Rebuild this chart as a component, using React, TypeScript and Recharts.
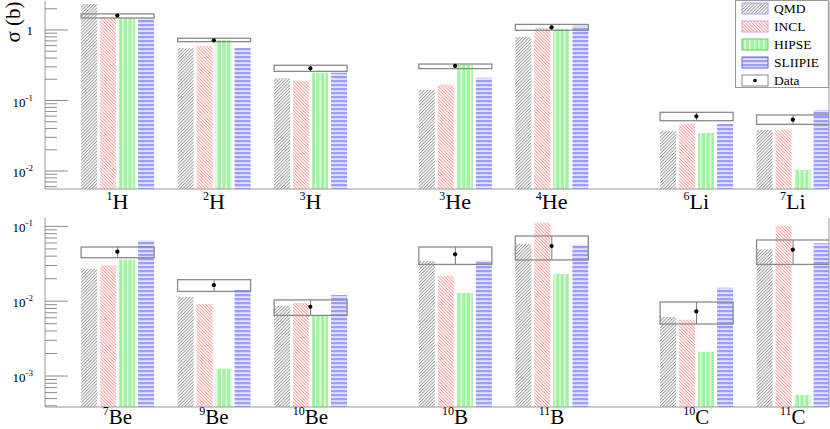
import React from "react";
import { ComposedChart, Bar, Scatter, XAxis, YAxis, ReferenceLine, Legend } from "recharts";

const MODELS = ["QMD", "INCL", "HIPSE", "SLIIPIE"];
const KEYS = ["qmd", "incl", "hipse", "sliipie"];

// upper panel: hydrogen, helium, lithium
const TOP_MASS = [1, 2, 3, 3, 4, 6, 7];
const TOP_ELEM = ["H", "H", "H", "He", "He", "Li", "Li"];
const TOP_QMD = [2.34, 0.55, 0.206, 0.141, 0.795, 0.0369, 0.0382];
const TOP_INCL = [1.51, 0.593, 0.191, 0.166, 1.08, 0.0469, 0.0382];
const TOP_HIPSE = [1.47, 0.72, 0.248, 0.319, 1.04, 0.0346, 0.0104];
const TOP_SLIIPIE = [1.47, 0.556, 0.248, 0.211, 1.15, 0.0464, 0.0733];
const TOP_DATA = [1.6, 0.714, 0.286, 0.309, 1.09, 0.0596, 0.0534];
const TOP_LO = [1.48, 0.683, 0.259, 0.283, 0.99, 0.0517, 0.0459];
const TOP_HI = [1.69, 0.763, 0.316, 0.329, 1.2, 0.068, 0.0623];

// lower panel: beryllium, boron, carbon
const BOT_MASS = [7, 9, 10, 10, 11, 10, 11];
const BOT_ELEM = ["Be", "Be", "Be", "B", "B", "C", "C"];
const BOT_QMD = [0.0272, 0.0114, 0.0086, 0.0344, 0.0587, 0.00615, 0.0493];
const BOT_INCL = [0.0299, 0.00917, 0.00955, 0.0219, 0.112, 0.00566, 0.102];
const BOT_HIPSE = [0.0362, 0.00125, 0.0064, 0.0129, 0.0231, 0.00211, 0.00056];
const BOT_SLIIPIE = [0.065, 0.0141, 0.0121, 0.0351, 0.0569, 0.0151, 0.0593];
const BOT_DATA = [0.0459, 0.0164, 0.00843, 0.0423, 0.0547, 0.00731, 0.0489];
const BOT_LO = [0.0381, 0.0135, 0.00646, 0.031, 0.0356, 0.00496, 0.031];
const BOT_HI = [0.053, 0.0194, 0.0104, 0.053, 0.0744, 0.00975, 0.0658];

const SERIF = "'Liberation Serif', 'Times New Roman', serif";
const FRAME = "#9a9a9a";
const X_MAX = 16.25;

// isotopes of one element sit 2 units apart, a new element starts 3 units on
function layoutPositions(elem: string[]) {
  const out: number[] = [];
  let p = 1.5;
  elem.forEach((e, i) => {
    if (i > 0) p += e === elem[i - 1] ? 2 : 3;
    out.push(p);
  });
  return out;
}

function logTicks([lo, hi]: [number, number]) {
  const out: number[] = [];
  for (let d = Math.floor(Math.log10(lo)); d <= Math.ceil(Math.log10(hi)); d++) {
    for (let m = 1; m <= 9; m++) {
      const v = m * Math.pow(10, d);
      if (v >= lo && v <= hi) out.push(v);
    }
  }
  return out;
}

function Patterns({ id }: { id: string }) {
  return (
    <defs>
      <pattern id={`${id}-qmd`} patternUnits="userSpaceOnUse" width={2.3} height={2.3} patternTransform="rotate(45)">
        <rect width={2.3} height={2.3} fill="#fff" />
        <line x1={0.5} y1={0} x2={0.5} y2={2.3} stroke="#8e8e8e" strokeWidth={0.85} />
      </pattern>
      <pattern id={`${id}-incl`} patternUnits="userSpaceOnUse" width={2.3} height={2.3} patternTransform="rotate(-45)">
        <rect width={2.3} height={2.3} fill="#fff" />
        <line x1={0.5} y1={0} x2={0.5} y2={2.3} stroke="#ff8e8e" strokeWidth={0.85} />
      </pattern>
      <pattern id={`${id}-hipse`} patternUnits="userSpaceOnUse" width={4.7} height={10}>
        <rect width={4.7} height={10} fill="#9ff49f" />
        <rect x={0} width={1.3} height={10} fill="#efffef" />
      </pattern>
      <pattern id={`${id}-sliipie`} patternUnits="userSpaceOnUse" width={10} height={4}>
        <rect width={10} height={4} fill="#e2e2ff" />
        <rect y={0} width={10} height={2.2} fill="#9c9cff" />
      </pattern>
    </defs>
  );
}

function LogTick(props: any) {
  const { x, y, payload } = props;
  const lg = Math.log10(payload.value);
  const e = Math.round(lg);
  const major = Math.abs(lg - e) < 1e-6;
  return (
    <g>
      <line x1={x} x2={x + (major ? 23 : 12)} y1={y} y2={y} stroke="#8c8c8c" strokeWidth={1} />
      {major && (
        <text x={x - 12} y={y + (e === 0 ? 5 : 6)} textAnchor="end" fontFamily={SERIF} fontSize={13} fill="#000">
          {e === 0 ? (
            "1"
          ) : (
            <>
              <tspan>10</tspan>
              <tspan dy={-6} fontSize={9}>
                {e}
              </tspan>
            </>
          )}
        </text>
      )}
    </g>
  );
}

function BoxShape(props: any) {
  const { x, y, width, height } = props;
  if (width == null || height == null) return null;
  return (
    <g>
      <rect x={x} y={y} width={width} height={height} fill="none" stroke="#8a8a8a" strokeWidth={1.3} />
      <line x1={x + width / 2} x2={x + width / 2} y1={y} y2={y + height} stroke="#7a7a7a" strokeWidth={1} />
    </g>
  );
}

function Dot(props: any) {
  return <circle cx={props.cx} cy={props.cy} r={2.1} fill="#000" />;
}

function LegendBox({ id }: { id: string }) {
  const borders = ["#a4a4e6", "#d8a0d8", "#66cc66", "#6464d8"];
  return (
    <svg width={94} height={88} style={{ display: "block" }}>
      <rect x={0.5} y={0.5} width={93} height={87} fill="#fff" stroke={FRAME} strokeWidth={1} />
      {MODELS.map((m, i) => (
        <g key={m}>
          <rect x={7} y={3 + i * 18} width={26} height={11} fill={`url(#${id}-${KEYS[i]})`} stroke={borders[i]} strokeWidth={1} />
          <text x={39} y={13 + i * 18} fontFamily={SERIF} fontSize={13.5} fill="#000">
            {m}
          </text>
        </g>
      ))}
      <rect x={7} y={75} width={26} height={11} fill="#fff" stroke="#8a8a8a" strokeWidth={1} />
      <circle cx={20} cy={80.5} r={1.8} fill="#000" />
      <text x={39} y={85} fontFamily={SERIF} fontSize={13.5} fill="#000">
        Data
      </text>
    </svg>
  );
}

type PanelProps = {
  id: string;
  mass: number[];
  elem: string[];
  series: number[][];
  data: number[];
  lo: number[];
  hi: number[];
  yDomain: [number, number];
  height: number;
  top: number;
  axisH: number;
  labelDy: number;
  labelSize: number;
  yLabel?: boolean;
  legend?: boolean;
};

function Panel(p: PanelProps) {
  const { id, mass, elem, series, data, lo, hi, yDomain, height, top, axisH, labelDy, labelSize, yLabel, legend } = p;
  const pos = layoutPositions(elem);
  const rows = pos.map((x, i) => {
    const r: any = { pos: x, data: data[i], box: [lo[i], hi[i]] };
    KEYS.forEach((k, j) => (r[k] = series[j][i]));
    return r;
  });

  const IsoTick = (props: any) => {
    const { x, y, index } = props;
    return (
      <text x={x} y={y + labelDy} textAnchor="middle" fontFamily={SERIF} fill="#000">
        <tspan fontSize={12} dy={-9}>
          {mass[index]}
        </tspan>
        <tspan fontSize={labelSize} dy={9}>
          {elem[index]}
        </tspan>
      </text>
    );
  };

  const YLabel = (props: any) => {
    const vb = props.viewBox || { x: 0, y: top };
    return (
      <text transform={`translate(${vb.x + 19.5},${vb.y + 21}) rotate(-90)`} textAnchor="middle" fontFamily={SERIF} fontSize={21} fill="#000">
        σ (b)
      </text>
    );
  };

  return (
    <ComposedChart width={830} height={height} data={rows} margin={{ top, right: 1, left: 0, bottom: 0 }} barGap={3}>
      <Patterns id={id} />
      <XAxis
        dataKey="pos"
        type="number"
        domain={[0, X_MAX]}
        allowDataOverflow
        ticks={pos}
        interval={0}
        tick={IsoTick}
        tickLine={false}
        tickSize={0}
        tickMargin={0}
        height={axisH}
        stroke={FRAME}
      />
      <XAxis
        xAxisId="box"
        dataKey="pos"
        type="number"
        domain={[0, X_MAX]}
        allowDataOverflow
        orientation="top"
        height={0}
        tick={false}
        tickLine={false}
        stroke={FRAME}
      />
      <YAxis
        type="number"
        scale="log"
        domain={yDomain}
        allowDataOverflow
        ticks={logTicks(yDomain)}
        interval={0}
        tick={LogTick}
        tickLine={false}
        tickSize={0}
        tickMargin={0}
        width={45}
        stroke={FRAME}
        label={yLabel ? <YLabel /> : undefined}
      />
      <ReferenceLine x={X_MAX} stroke={FRAME} strokeWidth={1} />
      {KEYS.map((k) => (
        <Bar key={k} dataKey={k} fill={`url(#${id}-${k})`} barSize={16} isAnimationActive={false} />
      ))}
      <Bar xAxisId="box" dataKey="box" barSize={73} shape={BoxShape} isAnimationActive={false} />
      <Scatter dataKey="data" shape={Dot} isAnimationActive={false} />
      {legend && (
        <Legend
          layout="vertical"
          align="center"
          verticalAlign="middle"
          content={() => <LegendBox id={id} />}
          wrapperStyle={{ left: 735, top: 0, width: 94, height: 88 }}
        />
      )}
    </ComposedChart>
  );
}

export default function App() {
  return (
    <div style={{ position: "absolute", left: 0, top: 0, width: 830, height: 429, background: "#fff" }}>
      <div style={{ position: "absolute", left: 0, top: 210 }}>
        <Panel
          id="bot"
          mass={BOT_MASS}
          elem={BOT_ELEM}
          series={[BOT_QMD, BOT_INCL, BOT_HIPSE, BOT_SLIIPIE]}
          data={BOT_DATA}
          lo={BOT_LO}
          hi={BOT_HI}
          yDomain={[Math.pow(10, -3.414), Math.pow(10, -0.888)]}
          height={219}
          top={8}
          axisH={22}
          labelDy={17}
          labelSize={21}
        />
      </div>
      <div style={{ position: "absolute", left: 0, top: 0 }}>
        <Panel
          id="top"
          mass={TOP_MASS}
          elem={TOP_ELEM}
          series={[TOP_QMD, TOP_INCL, TOP_HIPSE, TOP_SLIIPIE]}
          data={TOP_DATA}
          lo={TOP_LO}
          hi={TOP_HI}
          yDomain={[Math.pow(10, -2.255), Math.pow(10, 0.411)]}
          height={217}
          top={1}
          axisH={28}
          labelDy={20}
          labelSize={22}
          yLabel
          legend
        />
      </div>
    </div>
  );
}
